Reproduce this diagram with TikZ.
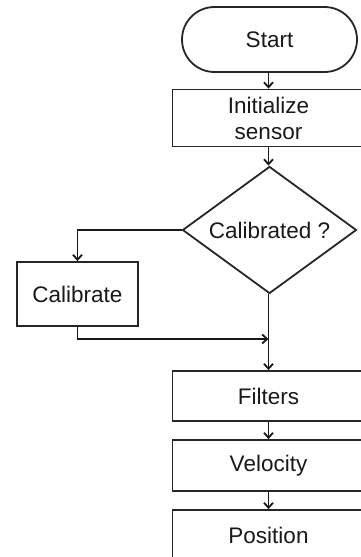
\documentclass[tikz,border=0pt]{standalone}
\usepackage{fontspec}
\setmainfont{Liberation Sans}
\usetikzlibrary{shapes.geometric,shapes.misc,arrows.meta}
\begin{document}
\begin{tikzpicture}[x=1pt,y=1pt,
  line width=1.8pt,
  box/.style={draw=black!85, rectangle, inner sep=0pt, align=center, font=\fontsize{22.5}{26}\selectfont, text=black!90},
  term/.style={draw=black!85, rounded rectangle, inner sep=0pt, font=\fontsize{22.5}{26}\selectfont, text=black!90},
  decision/.style={draw=black!85, diamond, inner sep=0pt, font=\fontsize{22.5}{26}\selectfont, text=black!90},
  conn/.style={draw=black!90, -{Straight Barb[length=5pt,width=9pt,line width=1.8pt]}}]
\useasboundingbox (0,0) rectangle (361,-557);
\begin{scope}
\clip (0,0) rectangle (361,-557);
\node[term, minimum width=175, minimum height=65] (start) at (269.5,-39.5) {Start};
\node[box, minimum width=192, minimum height=57] (init) at (268.5,-118) {Initialize\\sensor};
\node[decision, minimum width=174, minimum height=127, aspect=1.37] (dec) at (269.5,-230) {Calibrated ?};
\node[box, minimum width=121, minimum height=64] (cal) at (77.5,-294) {Calibrate};
\node[box, minimum width=192, minimum height=50] (filt) at (268.5,-396) {Filters};
\node[box, minimum width=192, minimum height=51] (vel) at (268.5,-465.5) {Velocity};
\node[box, minimum width=192, minimum height=51] (pos) at (268.5,-535.5) {Position};
\coordinate (join) at (268.5,-339);
\draw[conn] (start.south -| init.north) -- (init.north);
\draw[conn] (init.south) -- (init.south |- dec.north);
\draw[conn] (dec.west) -| (cal.north);
\draw[conn] (dec.south -| filt.north) -- (filt.north);
\draw[conn] (cal.south) |- (join);
\draw[conn] (filt.south) -- (vel.north);
\draw[conn] (vel.south) -- (pos.north);
\end{scope}
\end{tikzpicture}
\end{document}
